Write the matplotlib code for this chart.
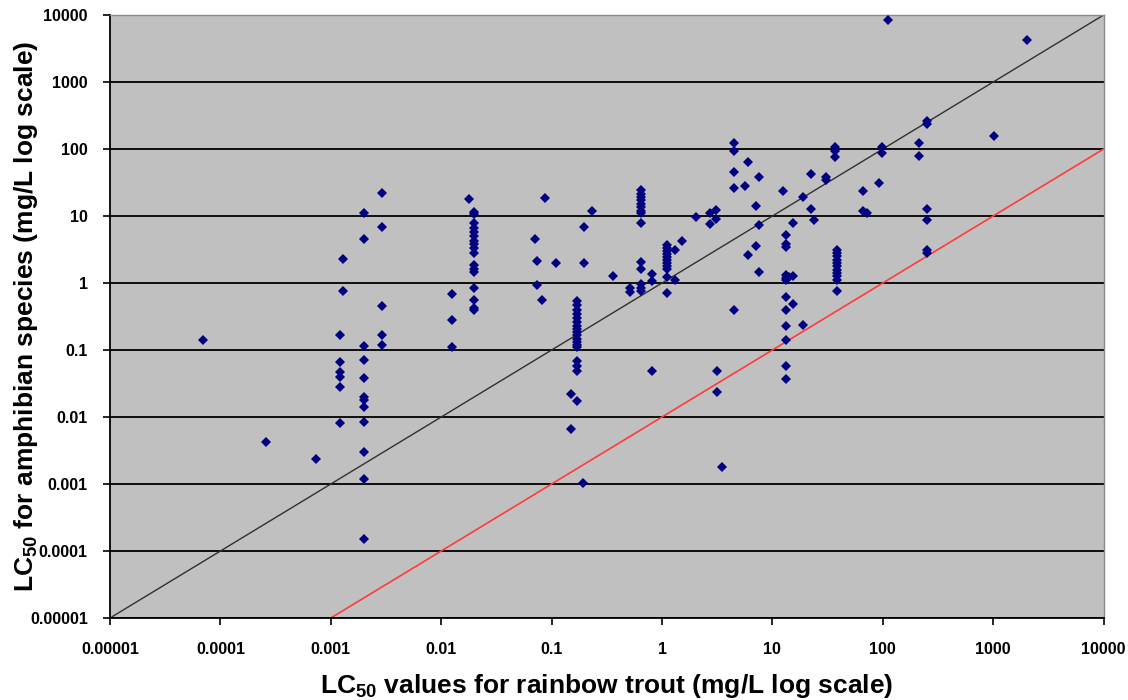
import matplotlib
matplotlib.use("Agg")
import matplotlib.pyplot as plt

plt.rcParams['font.family'] = ['Liberation Sans', 'DejaVu Sans']
plt.rcParams['font.weight'] = 'bold'
plt.rcParams['mathtext.fontset'] = 'custom'
plt.rcParams['mathtext.rm'] = 'Liberation Sans:bold'
plt.rcParams['mathtext.it'] = 'Liberation Sans:bold'
plt.rcParams['mathtext.bf'] = 'Liberation Sans:bold'
plt.rcParams['mathtext.default'] = 'rm'

# LC50 for rainbow trout (x) and amphibian species (y), mg/L
trout_lc50 = [
    0.00007,
    0.00026,
    0.00073,
    0.0013, 0.0013,
    0.0012, 0.0012, 0.0012, 0.0012, 0.0012, 0.0012,
    0.002, 0.002, 0.002, 0.002, 0.002, 0.002, 0.002, 0.002, 0.002, 0.002, 0.002, 0.002,
    0.0029, 0.0029, 0.0029, 0.0029, 0.0029,
    0.0124, 0.0124, 0.0124,
    0.018,
    0.02, 0.02, 0.02, 0.02, 0.02, 0.02, 0.02, 0.02, 0.02, 0.02, 0.02, 0.02, 0.02, 0.02, 0.02, 0.02, 0.02,
    0.07, 0.074, 0.074, 0.081, 0.088, 0.11,
    0.149, 0.149,
    0.17, 0.17, 0.17, 0.17, 0.17, 0.17, 0.17, 0.17, 0.17, 0.17, 0.17, 0.17, 0.17, 0.17, 0.17, 0.17, 0.17, 0.17,
    0.191, 0.198, 0.198, 0.23, 0.357, 0.51, 0.51,
    0.65, 0.65, 0.65, 0.65, 0.65, 0.65, 0.65, 0.65, 0.65, 0.65, 0.65, 0.65, 0.65, 0.65,
    0.82, 0.82, 0.82,
    1.1, 1.1, 1.1, 1.1, 1.1, 1.1, 1.1, 1.1, 1.1, 1.1, 1.1,
    1.31, 1.31, 1.51, 2.02, 2.72, 2.72, 3.08, 3.08, 3.13, 3.13, 3.52,
    4.49, 4.49, 4.49, 4.49, 4.49,
    5.65, 6.05, 6.05, 7.1, 7.1, 7.6, 7.6, 7.6, 12.6,
    13.3, 13.3, 13.3, 13.3, 13.3, 13.3, 13.3, 13.3, 13.3, 13.3, 13.3, 13.3,
    14.2, 15.3, 15.3, 15.3, 19.1, 19.1, 22.2, 22.2, 24.0, 30.6, 30.6,
    36.9, 36.9, 36.9, 36.9,
    38.2, 38.2, 38.2, 38.2, 38.2, 38.2, 38.2, 38.2, 38.2, 38.2, 38.2,
    66.5, 66.5, 71.5, 91.7, 97.7, 97.7, 110.7, 213, 213,
    253, 253, 253, 253, 253, 253,
    1017, 2010,
]
amphibian_lc50 = [
    0.142,
    0.0042,
    0.0024,
    2.3, 0.76,
    0.17, 0.067, 0.047, 0.039, 0.028, 0.0082,
    11.2, 4.5, 0.114, 0.071, 0.038, 0.02, 0.018, 0.014, 0.0085, 0.003, 0.0012, 0.000152,
    22.1, 6.9, 0.46, 0.166, 0.12,
    0.68, 0.28, 0.11,
    18.2,
    11.5, 10.6, 7.9, 6.7, 5.8, 5.0, 4.3, 3.8, 3.3, 2.8, 1.83, 1.64, 1.46, 0.85, 0.56, 0.43, 0.39,
    4.5, 2.1, 0.92, 0.55, 18.8, 1.98,
    0.0221, 0.0066,
    0.536, 0.462, 0.399, 0.348, 0.303, 0.261, 0.232, 0.207, 0.185, 0.165, 0.147, 0.131, 0.117, 0.110,
    0.0697, 0.0586, 0.0494, 0.0176,
    0.00102, 6.9, 1.98, 11.9, 1.26, 0.84, 0.73,
    24.2, 21.6, 19.2, 17.2, 15.3, 13.6, 11.9, 10.9, 7.9, 2.05, 1.64, 0.98, 0.85, 0.76,
    1.38, 1.07, 0.048,
    3.65, 3.29, 2.97, 2.68, 2.42, 2.18, 1.96, 1.77, 1.60, 1.22, 0.71,
    3.07, 1.09, 4.3, 9.7, 11.1, 7.7, 12.2, 9.1, 0.048, 0.024, 0.00177,
    121, 94, 45.5, 26.2, 0.39,
    27.8, 64, 2.59, 14, 3.56, 38.3, 7.3, 1.46, 23.6,
    5.15, 3.87, 3.44, 1.30, 1.20, 1.09, 0.615, 0.399, 0.227, 0.142, 0.057, 0.037,
    1.23, 7.9, 1.26, 0.479, 19.2, 0.238, 43, 12.9, 8.6, 38.3, 34.2,
    107, 100, 93, 75,
    3.15, 2.80, 2.50, 2.23, 1.98, 1.77, 1.58, 1.41, 1.26, 1.12, 0.76,
    23.6, 11.9, 10.9, 31.1, 107, 85.7, 8420, 123, 78,
    263, 240, 12.9, 8.6, 3.15, 2.80,
    157, 4230,
]

tick_values = [0.00001, 0.0001, 0.001, 0.01, 0.1, 1, 10, 100, 1000, 10000]
tick_labels = ['0.00001', '0.0001', '0.001', '0.01', '0.1', '1', '10', '100', '1000', '10000']

# reference lines: 1:1 line, and 1:100 (amphibian = trout / 100)
one_to_one_x = [0.00001, 10000]
hundredfold_x = [0.001, 10000]
hundredfold_factor = 100

fig = plt.figure(figsize=(11.28, 7.0), dpi=100)
ax = fig.add_axes([0.0975, 0.1171, 0.8809, 0.8615])
ax.set_facecolor('#C0C0C0')
ax.set_xscale('log')
ax.set_yscale('log')
ax.set_xlim(tick_values[0], tick_values[-1])
ax.set_ylim(tick_values[0], tick_values[-1])

ax.set_axisbelow(True)
ax.yaxis.grid(True, color='black', linewidth=1.3)
ax.xaxis.grid(False)

ax.plot(one_to_one_x, one_to_one_x, color='#303030', linewidth=1.0, zorder=2)
ax.plot(hundredfold_x, [v / hundredfold_factor for v in hundredfold_x],
        color='#FF3B3B', linewidth=1.2, zorder=2)

ax.plot(trout_lc50, amphibian_lc50, linestyle='none', marker='D',
        markersize=4.8, color='#000080', markeredgewidth=0, zorder=3,
        clip_on=False)

ax.set_xticks(tick_values, tick_labels)
ax.set_yticks(tick_values, tick_labels)
ax.minorticks_off()
ax.tick_params(axis='both', which='major', direction='out', length=5,
               width=1.2, color='black', labelsize=11.5)
ax.tick_params(axis='x', pad=12)
ax.tick_params(axis='y', pad=11)
for lab in ax.get_xticklabels() + ax.get_yticklabels():
    lab.set_fontweight('bold')

for side in ['left', 'bottom']:
    ax.spines[side].set_color('black')
    ax.spines[side].set_linewidth(1.3)
for side in ['top', 'right']:
    ax.spines[side].set_color('#8A8A8A')
    ax.spines[side].set_linewidth(1.0)

ax.set_xlabel(r'LC$_{50}$ values for rainbow trout (mg/L log scale)',
              fontsize=19, fontweight='bold', va='center')
ax.xaxis.set_label_coords(0.5, -0.112)
ax.set_ylabel(r'LC$_{50}$ for amphibian species (mg/L log scale)',
              fontsize=19, fontweight='bold', va='center')
ax.yaxis.set_label_coords(-0.085, 0.5)

fig.savefig('out.png', dpi=100)
